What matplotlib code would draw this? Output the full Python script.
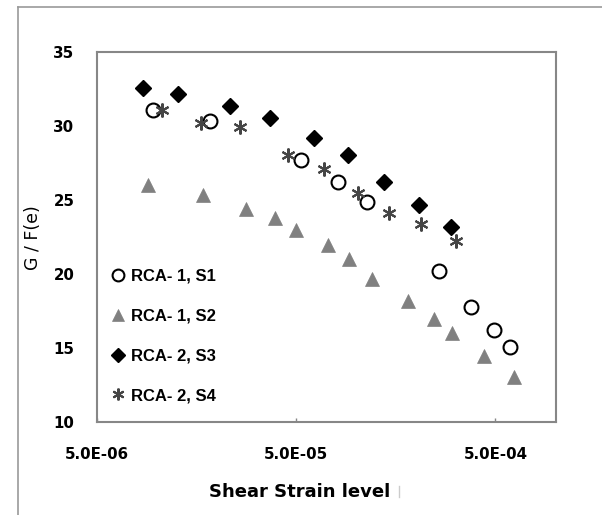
# plotting normalised shear modulus against shear strain for the RCA samples
import numpy as np
import matplotlib
matplotlib.use("Agg")
import matplotlib.pyplot as plt
from matplotlib.lines import Line2D
from matplotlib.ticker import FixedLocator, FuncFormatter

# RCA-1, S1
s1_strain = [9.54e-6, 1.85e-5, 5.27e-5, 8.1e-5, 1.14e-4, 2.6e-4, 3.75e-4, 4.91e-4, 5.89e-4]
s1_gf = [31.06, 30.32, 27.73, 26.19, 24.86, 20.20, 17.75, 16.19, 15.07]

# RCA-1, S2
s2_strain = [9.05e-6, 1.70e-5, 2.79e-5, 3.94e-5, 5.02e-5, 7.2e-5, 9.2e-5, 1.20e-4,
             1.82e-4, 2.46e-4, 3.04e-4, 4.40e-4, 6.16e-4]
s2_gf = [26.01, 25.34, 24.39, 23.81, 22.95, 21.94, 21.04, 19.68, 18.15, 16.94, 16.01, 14.48, 13.04]

# RCA-2, S3
s3_strain = [8.5e-6, 1.28e-5, 2.32e-5, 3.70e-5, 6.16e-5, 9.09e-5, 1.38e-4, 2.06e-4, 3.0e-4]
s3_gf = [32.57, 32.14, 31.33, 30.56, 29.17, 28.02, 26.19, 24.64, 23.18]

# RCA-2, S4
s4_strain = [1.06e-5, 1.67e-5, 2.61e-5, 4.54e-5, 6.88e-5, 1.02e-4, 1.47e-4, 2.12e-4, 3.18e-4]
s4_gf = [31.06, 30.18, 29.93, 28.02, 27.07, 25.47, 24.14, 23.40, 22.23]

labels = ["RCA- 1, S1", "RCA- 1, S2", "RCA- 2, S3", "RCA- 2, S4"]
x_ticks = [5e-6, 5e-5, 5e-4]
y_ticks = [10, 15, 20, 25, 30, 35]

W, H = 602, 515
fig = plt.figure(figsize=(W / 100, H / 100), dpi=100)
ax = fig.add_axes([96.7 / W, 1 - 422 / H, (555.5 - 96.7) / W, (422 - 52) / H])

ax.plot(s1_strain, s1_gf, linestyle="none", marker="o", markersize=10,
        markerfacecolor="white", markeredgecolor="black", markeredgewidth=1.5, label=labels[0])
ax.plot(s2_strain, s2_gf, linestyle="none", marker="^", markersize=10.5,
        color="#808080", markeredgewidth=0.5, label=labels[1])
ax.plot(s3_strain, s3_gf, linestyle="none", marker="D", markersize=7.8,
        color="black", markeredgewidth=1, label=labels[2])
ax.plot(s4_strain, s4_gf, linestyle="none", marker=(6, 2, 0), markersize=10,
        color="#454545", markeredgewidth=1.5, label=labels[3])

ax.set_xscale("log")
ax.set_xlim(5e-6, 1e-3)
ax.set_ylim(10, 35)
ax.xaxis.set_major_locator(FixedLocator(x_ticks))
ax.xaxis.set_minor_locator(FixedLocator([]))
ax.xaxis.set_major_formatter(FuncFormatter(lambda v, p: f"{v:.1E}"))
ax.set_yticks(y_ticks)

tick_font = {"family": "DejaVu Sans", "weight": "bold", "size": 10.8}
for t in ax.get_xticklabels() + ax.get_yticklabels():
    t.set_fontproperties(matplotlib.font_manager.FontProperties(**tick_font))
ax.tick_params(axis="x", direction="in", length=3, width=1, color="#878787", pad=18)
ax.tick_params(axis="y", length=0, pad=16)

for s in ax.spines.values():
    s.set_color("#878787")
    s.set_linewidth(1.5)

# legend on the left inside the plot
ax.legend(loc="upper left", bbox_to_anchor=(0.032, 0.414), frameon=False, borderpad=0,
          borderaxespad=0, handlelength=0.8, handletextpad=0.38, labelspacing=1.49,
          markerscale=0.85, prop={"family": "Liberation Sans", "weight": "bold", "size": 12})

# axis titles
fig.text(300 / W, 1 - 497.3 / H, "Shear Strain level", ha="center", va="baseline",
         family="DejaVu Sans", weight="bold", size=13)
fig.add_artist(Line2D([399 / W, 399 / W], [1 - 486 / H, 1 - 497 / H], color="#cccccc", lw=1))
fig.text(33 / W, 1 - 237.5 / H, "G / F(e)", ha="center", va="center", rotation=90,
         family="DejaVu Sans", size=12.5)

# outer chart border (left and top edges)
fig.add_artist(Line2D([17.7 / W, 17.7 / W], [0, 1 - 7.3 / H], color="#9a9a9a", lw=1.2))
fig.add_artist(Line2D([17.7 / W, 1], [1 - 7.3 / H, 1 - 7.3 / H], color="#9a9a9a", lw=1.2))

plt.savefig("out.png", dpi=100)
